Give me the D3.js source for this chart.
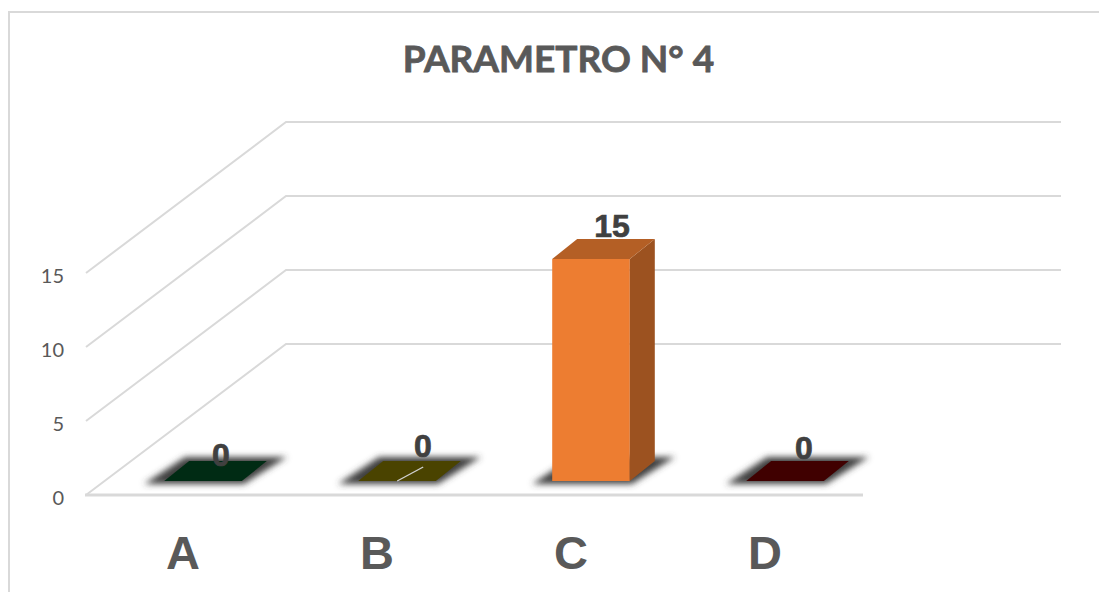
<!DOCTYPE html>
<html>
<head>
<meta charset="utf-8">
<script src="https://cdn.jsdelivr.net/npm/d3@7"></script>
<style>
html,body{margin:0;padding:0;background:#fff}
svg{display:block}
</style>
</head>
<body>
<svg id="chart" width="1099" height="592"></svg>
<script>
const chartTitle = "PARAMETRO N° 4";
const categories = ["A", "B", "C", "D"];
const values = [0, 0, 15, 0];
const barColors = ["#002b14", "#4a4300", "#ed7d31", "#400000"];
const yTicks = [0, 5, 10, 15];
// Value label nudges: lift above the top face and shift to the right, in px
const labelLift = [-5, 4, 2, 2];
const labelShift = [5.5, 13.5, 8.5, 6.5];

const svg = d3.select("#chart");

const floorLeft = 86, floorRight = 862, floorY = 495;
const wallDx = 200, wallDy = -151;        // oblique offset from front plane to back wall
const wallRight = 1061;
const x = d3.scaleBand().domain(categories).range([floorLeft, floorRight]);
const y = d3.scaleLinear().domain([0, 20]).range([floorY, floorY - 296]);

const barWidth = x.bandwidth() * 0.4;
const baseDrop = 14;                      // base of the bars above the front floor edge
const depthDx = 25, depthDy = -20;

svg.append("defs").append("filter").attr("id", "soft")
  .attr("x", "-30%").attr("y", "-80%").attr("width", "160%").attr("height", "260%")
  .append("feGaussianBlur").attr("stdDeviation", 3.2);

// Chart frame: only the top and left edges fall inside the page
const lineColor = "#d9d9d9";
svg.append("path")
  .attr("d", d3.line()([[9, 592], [9, 12], [1099, 12]]))
  .attr("fill", "none").attr("stroke", lineColor).attr("stroke-width", 2);

// Gridlines: side wall plus back wall for each tick
const grid = svg.append("g").attr("fill", "none").attr("stroke", lineColor).attr("stroke-width", 2);
yTicks.forEach(t => {
  const yy = y(t);
  grid.append("path").attr("d", d3.line()([
    [floorLeft, yy], [floorLeft + wallDx, yy + wallDy], [wallRight, yy + wallDy]
  ]));
});

// Front edge of the floor
svg.append("line")
  .attr("x1", floorLeft - 1).attr("x2", floorRight + 1)
  .attr("y1", floorY).attr("y2", floorY)
  .attr("stroke", lineColor).attr("stroke-width", 3);

// Value axis labels
svg.append("g").selectAll("text").data(yTicks).join("text")
  .attr("x", 64).attr("y", d => y(d) + 10)
  .attr("text-anchor", "end")
  .attr("font-family", "Lato, sans-serif")
  .attr("font-size", 20)
  .attr("fill", "#595959")
  .text(d => d);

// Category labels
svg.append("g").selectAll("text").data(categories).join("text")
  .attr("x", d => x(d) + x.bandwidth() / 2)
  .attr("y", 569)
  .attr("text-anchor", "middle")
  .attr("font-family", "'Liberation Sans', Arial, sans-serif")
  .attr("font-weight", 700)
  .attr("font-size", 47)
  .attr("fill", "#595959")
  .text(d => d);

// Title
svg.append("text")
  .attr("x", 558.5).attr("y", 72)
  .attr("text-anchor", "middle")
  .attr("font-family", "Lato, sans-serif")
  .attr("font-weight", 700)
  .attr("font-size", 37)
  .attr("fill", "#595959")
  .attr("stroke", "#595959")
  .attr("stroke-width", 0.8)
  .text(chartTitle);

// Bars: blurred floor shadow, then front, side and top faces
const poly = p => d3.line()(p) + "Z";
const bars = svg.append("g").selectAll("g").data(categories).join("g");
bars.each(function (c, i) {
  const g = d3.select(this);
  const v = values[i];
  const left = x(c) + x.bandwidth() / 2 - barWidth / 2 + 20, right = left + barWidth;
  const base = floorY - baseDrop;
  const top = base - (y(0) - y(v));

  g.append("path")
    .attr("d", poly([[left - 20, base + 3], [right + 2, base + 3],
                     [right + depthDx + 20, base + depthDy - 4], [left + depthDx - 4, base + depthDy - 4]]))
    .attr("fill", "#404040")
    .attr("filter", "url(#soft)");

  if (v > 0) {
    g.append("path").attr("d", poly([[left, base], [right, base], [right, top], [left, top]]))
      .attr("fill", barColors[i]);
    g.append("path").attr("d", poly([[right, base], [right + depthDx, base + depthDy],
                                     [right + depthDx, top + depthDy], [right, top]]))
      .attr("fill", d3.color(barColors[i]).darker(1.165));
  }
  g.append("path").attr("d", poly([[left, top], [right, top],
                                   [right + depthDx, top + depthDy], [left + depthDx, top + depthDy]]))
    .attr("fill", v > 0 ? d3.color(barColors[i]).darker(0.77) : barColors[i]);

  // Value label above the bar's top face
  g.append("text")
    .attr("x", (left + right + depthDx) / 2 + labelShift[i])
    .attr("y", top + depthDy - labelLift[i])
    .attr("text-anchor", "middle")
    .attr("font-family", "'Liberation Sans', Arial, sans-serif")
    .attr("font-weight", 700)
    .attr("font-size", 32)
    .attr("fill", "#404040")
    .attr("stroke", "#404040")
    .attr("stroke-width", 0.7)
    .text(v);

  // Leader line tying the label of the second category to its bar
  if (i === 1) {
    g.append("line")
      .attr("x1", left + 39).attr("y1", base)
      .attr("x2", left + 65).attr("y2", base - 14)
      .attr("stroke", "#d0d0d0").attr("stroke-width", 1.4);
  }
});
</script>
</body>
</html>
